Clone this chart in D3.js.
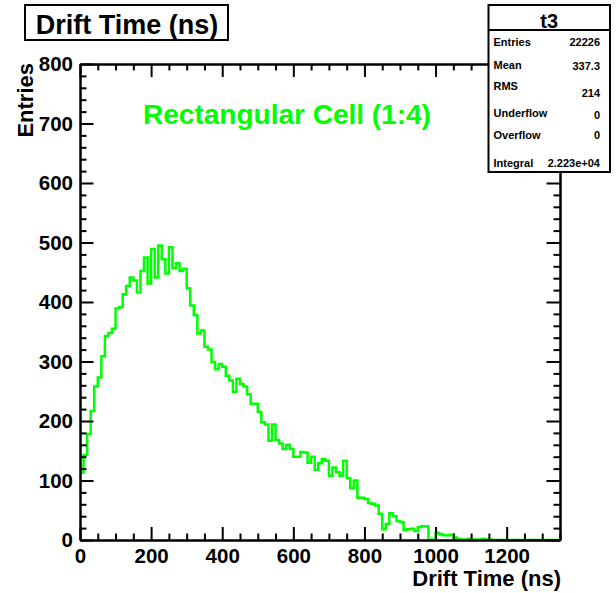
<!DOCTYPE html>
<html>
<head>
<meta charset="utf-8">
<script src="https://cdn.jsdelivr.net/npm/d3@7"></script>
<style>
  html, body { margin: 0; padding: 0; background: #fff; }
  svg { display: block; }
  text { font-family: "Liberation Sans", Arial, Helvetica, sans-serif; font-weight: bold; }
</style>
</head>
<body>
<svg id="chart" width="616" height="593"></svg>
<script>
// ---- data ----
const title = "Drift Time (ns)";
const xTitle = "Drift Time (ns)";
const yTitle = "Entries";
const annotation = "Rectangular Cell (1:4)";
const xDomain = [0, 1350];
const yDomain = [0, 800];
const binWidth = 10;
const counts = [
  113, 143, 178, 217, 258, 273, 309, 343, 348, 355,
  389, 391, 413, 427, 441, 436, 416, 452, 475, 431,
  489, 441, 495, 472, 448, 492, 457, 465, 452, 456,
  423, 394, 378, 347, 352, 325, 320, 299, 287, 296,
  291, 276, 268, 249, 271, 262, 258, 245, 229, 229,
  215, 198, 194, 167, 194, 168, 162, 153, 160, 153,
  140, 140, 148, 147, 130, 140, 118, 129, 136, 133,
  108, 122, 114, 108, 133, 104, 87, 100, 71, 71,
  69, 62, 61, 58, 44, 18, 27, 45, 40, 32,
  30, 17, 18, 19, 15, 22, 23, 23, 0, 1,
  12, 10, 8, 8, 9, 4, 2, 1, 1, 2,
  1, 1, 1, 2, 1, 1, 0, 0, 0, 0,
  0, 0, 0, 0, 0, 0, 0, 0, 0, 0,
  0, 0, 0, 0, 0
];
const xMajorTicks = [0, 200, 400, 600, 800, 1000, 1200];
const xMinorStep = 50;
const yMajorTicks = [0, 100, 200, 300, 400, 500, 600, 700, 800];
const yMinorStep = 20;
const statsName = "t3";
const statsLabels = ["Entries", "Mean", "RMS", "Underflow", "Overflow", "Integral"];
const statsValues = ["22226", "337.3", "214", "0", "0", "2.223e+04"];

// ---- drawing ----
const svg = d3.select("#chart");
const L = 80, R = 560, T = 64, B = 540;
const x = d3.scaleLinear().domain(xDomain).range([L, R]);
const y = d3.scaleLinear().domain(yDomain).range([B, T]);

svg.append("rect").attr("width", 616).attr("height", 593).attr("fill", "#fff");

// histogram
const pts = counts.map((c, i) => [i * binWidth, c]);
pts.push([counts.length * binWidth, counts[counts.length - 1]]);
const line = d3.line().x(d => x(d[0])).y(d => y(d[1])).curve(d3.curveStepAfter);
svg.append("path").datum(pts)
  .attr("d", line)
  .attr("fill", "none")
  .attr("stroke", "#00ff00")
  .attr("stroke-width", 2.5);

const xMinor = d3.range(xDomain[0], xDomain[1] + 1, xMinorStep).filter(v => !xMajorTicks.includes(v));
const yMinor = d3.range(yDomain[0], yDomain[1] + 1, yMinorStep).filter(v => !yMajorTicks.includes(v));

function styleAxis(g) {
  g.selectAll(".domain").attr("stroke", "#000").attr("stroke-width", 2);
  g.selectAll(".tick line").attr("stroke", "#000").attr("stroke-width", 2);
  g.selectAll("text").attr("fill", "#000").style("font-size", "20.5px").style("font-family", "'Liberation Sans', Arial, sans-serif").style("font-weight", "bold");
}

// bottom axis (major with labels)
svg.append("g").attr("transform", `translate(0,${B})`)
  .call(d3.axisBottom(x).tickValues(xMajorTicks).tickSize(-13).tickSizeOuter(0).tickPadding(8).tickFormat(d3.format("d")))
  .call(styleAxis);
svg.append("g").attr("transform", `translate(0,${B})`)
  .call(d3.axisBottom(x).tickValues(xMinor).tickSize(-6.5).tickSizeOuter(0).tickFormat(""))
  .call(styleAxis);
// top axis
svg.append("g").attr("transform", `translate(0,${T})`)
  .call(d3.axisTop(x).tickValues(xMajorTicks).tickSize(-13).tickSizeOuter(0).tickFormat(""))
  .call(styleAxis);
svg.append("g").attr("transform", `translate(0,${T})`)
  .call(d3.axisTop(x).tickValues(xMinor).tickSize(-6.5).tickSizeOuter(0).tickFormat(""))
  .call(styleAxis);
// left axis
svg.append("g").attr("transform", `translate(${L},0)`)
  .call(d3.axisLeft(y).tickValues(yMajorTicks).tickSize(-13.5).tickSizeOuter(0).tickPadding(7).tickFormat(d3.format("d")))
  .call(styleAxis);
svg.append("g").attr("transform", `translate(${L},0)`)
  .call(d3.axisLeft(y).tickValues(yMinor).tickSize(-6.5).tickSizeOuter(0).tickFormat(""))
  .call(styleAxis);
// right axis
svg.append("g").attr("transform", `translate(${R},0)`)
  .call(d3.axisRight(y).tickValues(yMajorTicks).tickSize(-13.5).tickSizeOuter(0).tickFormat(""))
  .call(styleAxis);
svg.append("g").attr("transform", `translate(${R},0)`)
  .call(d3.axisRight(y).tickValues(yMinor).tickSize(-6.5).tickSizeOuter(0).tickFormat(""))
  .call(styleAxis);

// axis titles
svg.append("text").attr("x", 561).attr("y", 586)
  .attr("text-anchor", "end").style("font-size", "22px").text(xTitle);
svg.append("text").attr("transform", "translate(33,63) rotate(-90)")
  .attr("text-anchor", "end").style("font-size", "22px").text(yTitle);

// annotation
svg.append("text").attr("x", 287).attr("y", 124)
  .attr("text-anchor", "middle").attr("fill", "#00ff00")
  .style("font-size", "28px").text(annotation);

// title box
svg.append("rect").attr("x", 25).attr("y", 5).attr("width", 203).attr("height", 35)
  .attr("fill", "#fff").attr("stroke", "#000").attr("stroke-width", 2);
svg.append("text").attr("x", 127).attr("y", 34)
  .attr("text-anchor", "middle").style("font-size", "27px").text(title);

// stats box
const sx = 488.5, sy = 5, sw = 121.5, sh = 167;
svg.append("rect").attr("x", sx).attr("y", sy).attr("width", sw).attr("height", sh)
  .attr("fill", "#fff").attr("stroke", "#000").attr("stroke-width", 2);
svg.append("line").attr("x1", sx).attr("x2", sx + sw).attr("y1", 30).attr("y2", 30)
  .attr("stroke", "#000").attr("stroke-width", 2);
svg.append("text").attr("x", sx + sw / 2).attr("y", 27.5)
  .attr("text-anchor", "middle").style("font-size", "20px").text(statsName);
const labelY = [45.5, 69, 90, 117, 139, 166.5];
const valueY = [45.5, 70, 96.5, 119, 139, 167];
svg.selectAll("text.slab").data(statsLabels).enter().append("text")
  .attr("class", "slab").attr("x", 493.5).attr("y", (d, i) => labelY[i])
  .style("font-size", "11px").text(d => d);
svg.selectAll("text.sval").data(statsValues).enter().append("text")
  .attr("class", "sval").attr("x", 600).attr("y", (d, i) => valueY[i])
  .attr("text-anchor", "end").style("font-size", "11px").text(d => d);
</script>
</body>
</html>
